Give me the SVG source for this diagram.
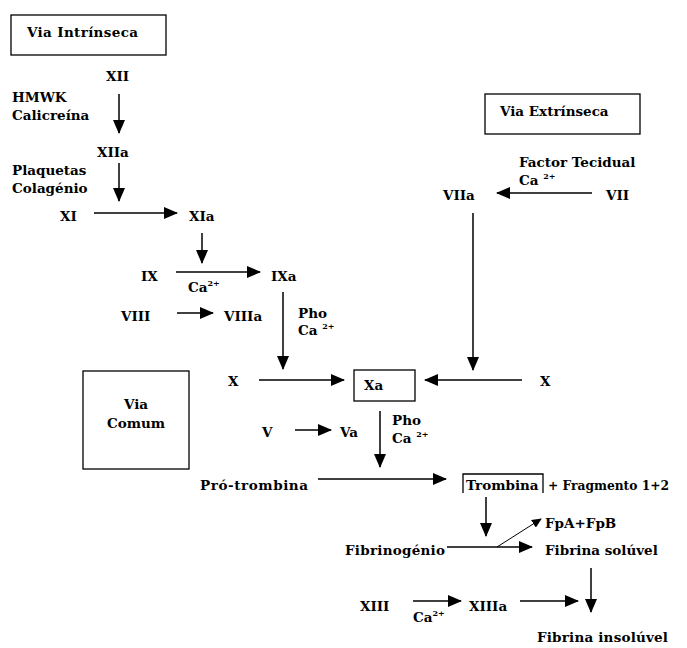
<svg xmlns="http://www.w3.org/2000/svg" width="687" height="648" viewBox="0 0 687 648">
<defs>
<marker id="ah" markerUnits="userSpaceOnUse" markerWidth="14" markerHeight="12" refX="13" refY="6" orient="auto">
<path d="M0,0 L14,6 L0,12 Z" fill="#000"/>
</marker>
<marker id="ahs" markerUnits="userSpaceOnUse" markerWidth="10" markerHeight="9" refX="9" refY="4.5" orient="auto">
<path d="M0,0 L10,4.5 L0,9 Z" fill="#000"/>
</marker>
<style>
text{font-family:"DejaVu Serif","Liberation Serif",serif;font-weight:bold;font-size:13.5px;fill:#000}
.sup{font-size:8px}
.box{fill:none;stroke:#000;stroke-width:1.3}
.c line{stroke:#000;stroke-width:1.5;fill:none;marker-end:url(#ah)}
.c .thin{stroke-width:1;marker-end:url(#ahs)}
</style>
</defs>
<rect width="687" height="648" fill="#fff"/>
<g id="via-intrinseca"><rect class="box" x="11" y="15" width="155" height="40"/><text x="27" y="37" textLength="111">Via Intrínseca</text></g>
<g id="via-extrinseca"><rect class="box" x="485" y="94" width="155" height="40"/><text x="500" y="116">Via Extrínseca</text></g>
<g id="via-comum"><rect class="box" x="83" y="371" width="106" height="98"/><text x="136" y="409" text-anchor="middle">Via</text><text x="136" y="428" text-anchor="middle">Comum</text></g>
<g id="XII"><text x="106" y="81">XII</text></g>
<g id="hmwk"><text x="12" y="102">HMWK</text><text x="12" y="120">Calicreína</text></g>
<g id="XIIa"><text x="97" y="157">XIIa</text></g>
<g id="plaquetas"><text x="12" y="175">Plaquetas</text><text x="12" y="193">Colagénio</text></g>
<g id="XI"><text x="60" y="221">XI</text></g>
<g id="XIa"><text x="189" y="221">XIa</text></g>
<g id="IX"><text x="141" y="281">IX</text></g>
<g id="ca1"><text x="188" y="292">Ca<tspan class="sup" dy="-6">2+</tspan></text></g>
<g id="IXa"><text x="271" y="281">IXa</text></g>
<g id="VIII"><text x="121" y="321">VIII</text></g>
<g id="VIIIa"><text x="224" y="321">VIIIa</text></g>
<g id="pho1"><text x="298" y="318">Pho</text><text x="298" y="335">Ca <tspan class="sup" dy="-6">2+</tspan></text></g>
<g id="factor"><text x="519" y="167">Factor Tecidual</text><text x="519" y="185">Ca <tspan class="sup" dy="-6">2+</tspan></text></g>
<g id="VIIa"><text x="443" y="200">VIIa</text></g>
<g id="VII"><text x="606" y="200">VII</text></g>
<g id="X-left"><text x="228" y="386">X</text></g>
<g id="Xa"><rect class="box" x="354" y="370" width="61" height="31"/><text x="364" y="390">Xa</text></g>
<g id="X-right"><text x="540" y="386">X</text></g>
<g id="V"><text x="262" y="437">V</text></g>
<g id="Va"><text x="340" y="437">Va</text></g>
<g id="pho2"><text x="392" y="425">Pho</text><text x="392" y="443">Ca <tspan class="sup" dy="-6">2+</tspan></text></g>
<g id="protrombina"><text x="200" y="490" textLength="108">Pró-trombina</text></g>
<g id="trombina"><polyline class="box" points="463,493 463,474 543,474 543,493"/><text x="466" y="490">Trombina</text><text x="548" y="490" textLength="121" lengthAdjust="spacingAndGlyphs">+ Fragmento 1+2</text></g>
<g id="fpa"><text x="545" y="528">FpA+FpB</text></g>
<g id="fibrinogenio"><text x="345" y="555" textLength="100">Fibrinogénio</text></g>
<g id="fibrina-soluvel"><text x="545" y="555">Fibrina solúvel</text></g>
<g id="XIII"><text x="360" y="611">XIII</text></g>
<g id="ca3"><text x="413" y="622">Ca<tspan class="sup" dy="-6">2+</tspan></text></g>
<g id="XIIIa"><text x="469" y="611">XIIIa</text></g>
<g id="fibrina-insoluvel"><text x="537" y="642" textLength="131">Fibrina insolúvel</text></g>
<g id="connectors" class="c">
<line x1="119" y1="94" x2="119" y2="133"/>
<line x1="119" y1="163" x2="119" y2="201"/>
<line x1="94" y1="213" x2="177" y2="213"/>
<line x1="202" y1="233" x2="202" y2="263"/>
<line x1="176" y1="272" x2="260" y2="272"/>
<line x1="177" y1="313" x2="213" y2="313"/>
<line x1="283" y1="292" x2="283" y2="369"/>
<line x1="592" y1="193" x2="497" y2="193"/>
<line x1="473" y1="213" x2="473" y2="370"/>
<line x1="259" y1="380" x2="344" y2="380"/>
<line x1="522" y1="380" x2="425" y2="380"/>
<line x1="295" y1="430" x2="331" y2="430"/>
<line x1="380" y1="411" x2="380" y2="467"/>
<line x1="318" y1="479" x2="446" y2="479"/>
<line x1="486" y1="497" x2="486" y2="536"/>
<line x1="447" y1="547" x2="532" y2="547"/>
<line class="thin" x1="497" y1="547" x2="541" y2="519"/>
<line x1="591" y1="568" x2="591" y2="612"/>
<line x1="413" y1="601" x2="461" y2="601"/>
<line x1="520" y1="601" x2="578" y2="601"/>
</g>
</svg>
